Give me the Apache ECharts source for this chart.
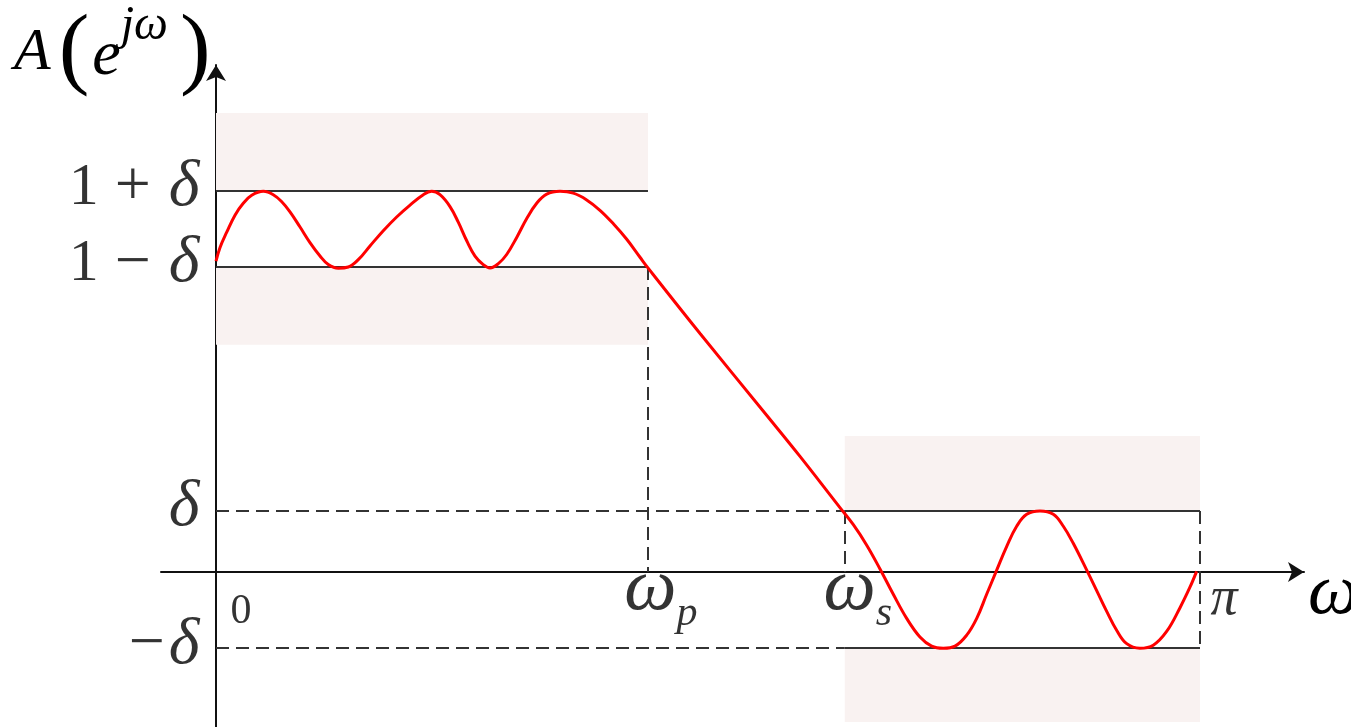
<!DOCTYPE html>
<html>
<head>
<meta charset="utf-8">
<script src="https://cdn.jsdelivr.net/npm/echarts@6/dist/echarts.min.js"></script>
<style>
html, body { margin: 0; padding: 0; background: #fff; }
#chart { width: 1351px; height: 727px; }
</style>
</head>
<body>
<div id="chart"></div>
<script>
// horizontal axis is omega / pi, so pi sits at 1
var omegaP = 0.439;
var omegaS = 0.639;
var omegaPi = 1;

var passUpper = 1.25;   // 1 + delta
var passLower = 1.0;    // 1 - delta
var stopUpper = 0.2;    // delta
var stopLower = -0.25;  // -delta

var passShadeTop = 1.505;
var passShadeBottom = 0.745;
var stopShadeTop = 0.446;
var stopShadeBottom = -0.492;

// A(e^jw)
var responseOmega = [0, 0.0041, 0.0109, 0.0193, 0.0277, 0.0363, 0.0481, 0.0582, 0.0668, 0.0752,
    0.0854, 0.0955, 0.1057, 0.1141, 0.1243, 0.1345, 0.1446, 0.1565, 0.1700, 0.1836,
    0.1972, 0.2107, 0.2192, 0.2276, 0.2378, 0.2462, 0.2548, 0.2632, 0.2716, 0.2785,
    0.2869, 0.2954, 0.3056, 0.3158, 0.3259, 0.3361, 0.3496, 0.3631, 0.3767, 0.3902,
    0.4038, 0.4174, 0.4309, 0.439, 0.4919, 0.5596, 0.5935, 0.6341, 0.6477,
    0.6613, 0.6748, 0.6883, 0.7019, 0.7154, 0.7273, 0.7391, 0.7510, 0.7629, 0.7731,
    0.7832, 0.7934, 0.8036, 0.8137, 0.8239, 0.8374, 0.8509, 0.8611, 0.8712, 0.8849,
    0.8950, 0.9052, 0.9153, 0.9255, 0.9390, 0.9525, 0.9661, 0.9797, 0.9898, 0.9966];
var responseAmp = [1.019, 1.064, 1.114, 1.170, 1.209, 1.235, 1.248, 1.237, 1.214, 1.181,
    1.131, 1.080, 1.036, 1.008, 0.996, 1.000, 1.024, 1.069, 1.119, 1.164,
    1.203, 1.237, 1.248, 1.237, 1.198, 1.147, 1.086, 1.036, 1.008, 0.997,
    1.011, 1.041, 1.097, 1.159, 1.209, 1.239, 1.248, 1.242, 1.220, 1.186,
    1.142, 1.091, 1.032, 0.997, 0.782, 0.514, 0.379, 0.211, 0.155,
    0.088, 0.010, -0.073, -0.152, -0.213, -0.243, -0.25, -0.243, -0.207, -0.152,
    -0.073, 0.006, 0.084, 0.150, 0.189, 0.2, 0.189, 0.150, 0.094, 0.006,
    -0.061, -0.129, -0.191, -0.235, -0.25, -0.240, -0.195, -0.117, -0.050, 0.002];

var yTickValues = [passUpper, passLower, stopUpper, stopLower];
var yTickLabels = ['{n|1}{o|+}{d|δ}', '{n|1}{o|−}{d|δ}', '{d|δ}', '{m|−}{d|δ}'];

var xTickValues = [0, omegaP, omegaS, omegaPi];
var xTickLabels = ['{z|0}', '{w|ω}{sub|p}', '{w|ω}{sub|s}', '{pi|π}'];

var serif = 'Liberation Serif';
var ink = '#000';
var guide = '#333';
var shade = '#f9f2f1';

var labelRich = {
    n: {fontFamily: serif, fontSize: 60, color: ink},
    o: {fontFamily: serif, fontSize: 64, color: ink, padding: [0, 18, 0, 16]},
    m: {fontFamily: serif, fontSize: 64, color: ink, padding: [0, 4, 0, 0]},
    d: {fontFamily: serif, fontSize: 66, fontStyle: 'italic', color: ink},
    z: {fontFamily: serif, fontSize: 42, color: ink},
    w: {fontFamily: serif, fontSize: 74, fontStyle: 'italic', color: ink, lineHeight: 44, verticalAlign: 'top'},
    sub: {fontFamily: serif, fontSize: 42, fontStyle: 'italic', color: ink, lineHeight: 40,
        verticalAlign: 'top', padding: [40, 0, 0, 0]},
    pi: {fontFamily: serif, fontSize: 54, fontStyle: 'italic', color: ink}
};

// [dx, dy, distance below the axis]
var xLabelOffsets = [[25, 0, 18], [13, -20, 0], [13, -20, 0], [24, 0, 0]];

var chartDom = document.getElementById('chart');
var myChart = echarts.init(chartDom);

var curveData = responseOmega.map(function (w, i) {
    return [w, responseAmp[i]];
});

var tickData = [];
yTickValues.forEach(function (v, i) {
    tickData.push({
        value: [0, v],
        label: {show: true, formatter: yTickLabels[i], position: 'left', distance: 16, offset: [0, -3], rich: labelRich}
    });
});
xTickValues.forEach(function (v, i) {
    tickData.push({
        value: [v, 0],
        label: {show: true, formatter: xTickLabels[i], position: 'bottom', distance: xLabelOffsets[i][2],
            offset: [xLabelOffsets[i][0], xLabelOffsets[i][1]], rich: labelRich}
    });
});

function seg(x1, y1, x2, y2, dashed) {
    return [
        {coord: [x1, y1], lineStyle: {type: dashed ? [13, 7] : 'solid', color: guide, width: 2}},
        {coord: [x2, y2]}
    ];
}

var option = {
    animation: false,
    grid: {left: 161, right: 47, top: 65, bottom: 0, outerBoundsMode: 'none', containLabel: false},
    graphic: [{
        type: 'text',
        left: 14,
        top: 2,
        style: {
            text: '{a|A}{p|(}{e|e}{s|jω}{p|)}',
            rich: {
                a: {fontFamily: serif, fontSize: 60, fontStyle: 'italic', fill: ink},
                p: {fontFamily: serif, fontSize: 92, fill: ink, lineHeight: 96, padding: [0, 3, 0, 8]},
                e: {fontFamily: serif, fontSize: 64, fontStyle: 'italic', fill: ink, padding: [8, 0, 0, 0]},
                s: {fontFamily: serif, fontSize: 48, fontStyle: 'italic', fill: ink, padding: [0, 4, 54, 0]}
            }
        }
    }],
    xAxis: {
        type: 'value',
        min: -0.0559,
        max: 1.1057,
        name: 'ω',
        nameLocation: 'end',
        nameGap: 4,
        nameTextStyle: {fontFamily: serif, fontSize: 72, fontStyle: 'italic', color: ink,
            lineHeight: 44, align: 'left', verticalAlign: 'top'},
        axisLine: {onZero: true, symbol: ['none', 'arrow'], symbolSize: [15, 16],
            lineStyle: {color: '#111', width: 2}},
        axisTick: {show: false},
        axisLabel: {show: false},
        splitLine: {show: false}
    },
    yAxis: {
        type: 'value',
        min: -0.5082,
        max: 1.6623,
        axisLine: {onZero: true, symbol: ['none', 'arrow'], symbolSize: [15, 16],
            lineStyle: {color: '#111', width: 2}},
        axisTick: {show: false},
        axisLabel: {show: false},
        splitLine: {show: false}
    },
    series: [
        {
            name: 'guides',
            type: 'line',
            data: [],
            silent: true,
            z: 1,
            markArea: {
                silent: true,
                itemStyle: {color: shade},
                data: [
                    [{coord: [0, passShadeTop]}, {coord: [omegaP, passUpper]}],
                    [{coord: [0, passLower]}, {coord: [omegaP, passShadeBottom]}],
                    [{coord: [omegaS, stopShadeTop]}, {coord: [omegaPi, stopUpper]}],
                    [{coord: [omegaS, stopLower]}, {coord: [omegaPi, stopShadeBottom]}]
                ]
            },
            markLine: {
                silent: true,
                symbol: ['none', 'none'],
                label: {show: false},
                data: [
                    seg(0, passUpper, omegaP, passUpper, false),
                    seg(0, passLower, omegaP, passLower, false),
                    seg(omegaS, stopUpper, omegaPi, stopUpper, false),
                    seg(omegaS, stopLower, omegaPi, stopLower, false),
                    seg(0, stopUpper, omegaS, stopUpper, true),
                    seg(0, stopLower, omegaS, stopLower, true),
                    seg(omegaP, passLower, omegaP, 0, true),
                    seg(omegaS, stopUpper, omegaS, 0, true),
                    seg(omegaPi, stopUpper, omegaPi, stopLower, true)
                ]
            }
        },
        {
            name: 'A(e^jw)',
            type: 'line',
            data: curveData,
            smooth: 0.4,
            showSymbol: false,
            silent: true,
            z: 5,
            lineStyle: {color: '#ff0000', width: 3}
        },
        {
            name: 'ticks',
            type: 'scatter',
            data: tickData,
            symbolSize: 1,
            itemStyle: {color: 'rgba(0,0,0,0)'},
            silent: true,
            clip: false,
            z: 6
        }
    ]
};
myChart.setOption(option);
</script>
</body>
</html>
